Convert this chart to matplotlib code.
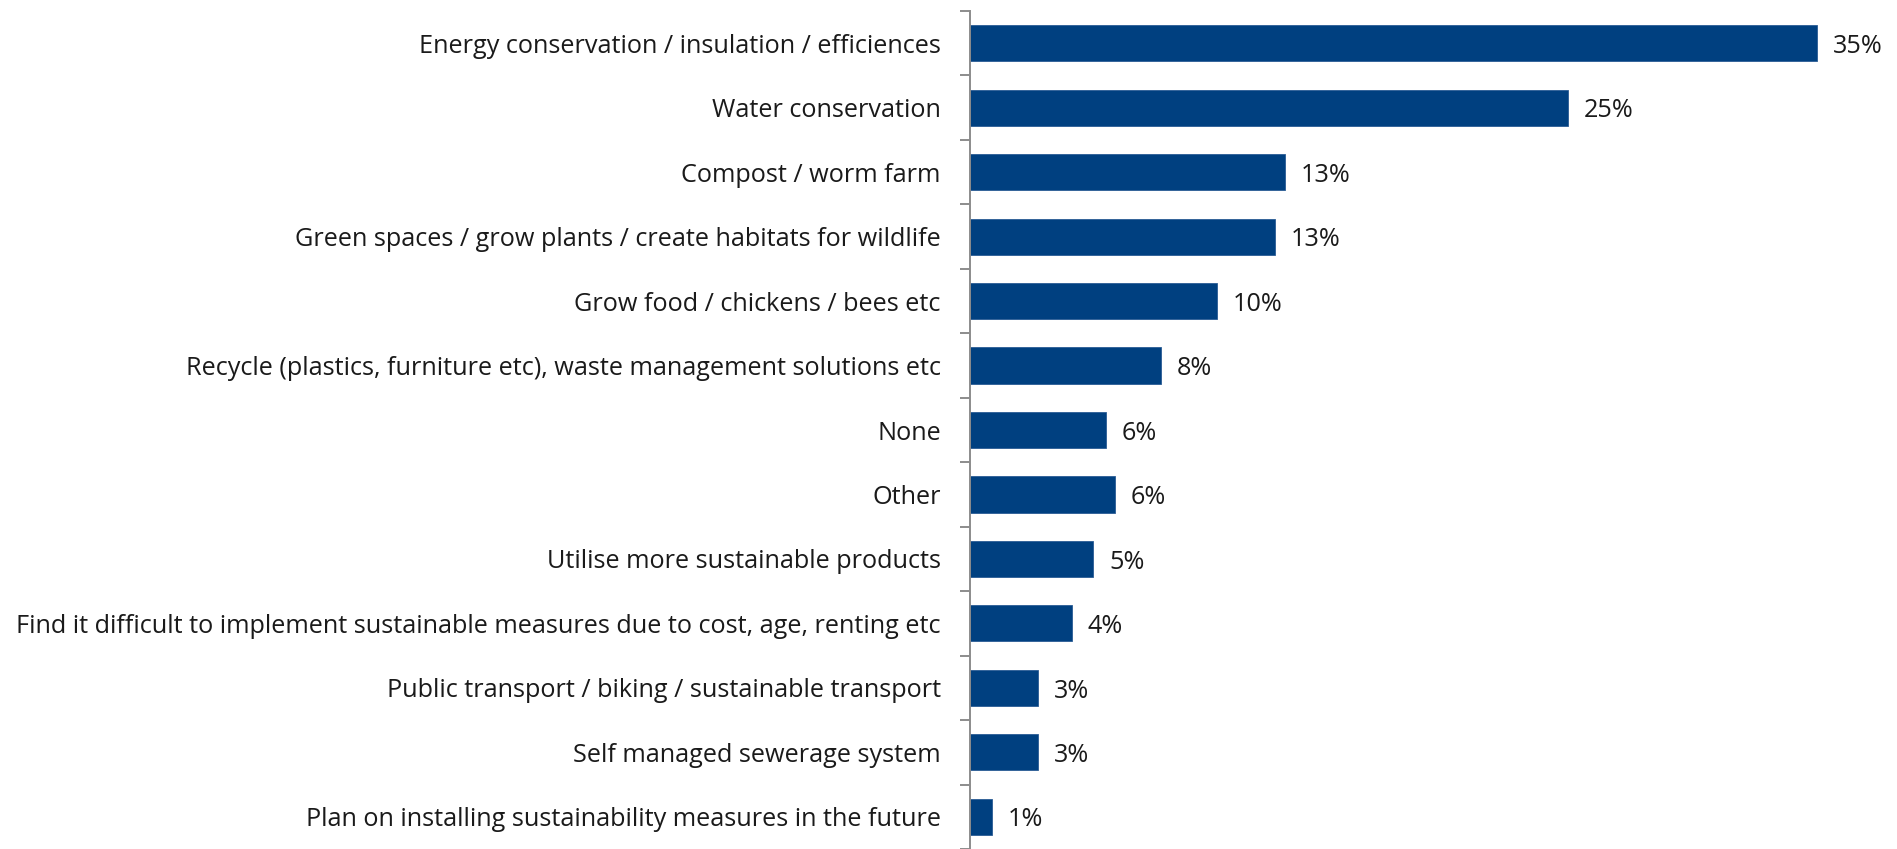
import matplotlib
matplotlib.use("Agg")
import matplotlib.pyplot as plt
import numpy as np

categories = [
    "Energy conservation / insulation / efficiences",
    "Water conservation",
    "Compost / worm farm",
    "Green spaces / grow plants / create habitats for wildlife",
    "Grow food / chickens / bees etc",
    "Recycle (plastics, furniture etc), waste management solutions etc",
    "None",
    "Other",
    "Utilise more sustainable products",
    "Find it difficult to implement sustainable measures due to cost, age, renting etc",
    "Public transport / biking / sustainable transport",
    "Self managed sewerage system",
    "Plan on installing sustainability measures in the future",
]
values = [35.0, 24.7, 13.0, 12.6, 10.2, 7.9, 5.6, 6.0, 5.1, 4.2, 2.8, 2.8, 0.9]
value_labels = ["35%", "25%", "13%", "13%", "10%", "8%", "6%", "6%", "5%", "4%", "3%", "3%", "1%"]

plt.rcParams['font.family'] = ['Open Sans', 'DejaVu Sans']

fig = plt.figure(figsize=(18.97, 8.49), dpi=100)
ax = fig.add_axes([970 / 1897, 0.0, 1 - 970 / 1897, 1 - 11 / 849])

y = np.arange(len(categories))
ax.barh(y, values, height=0.56, color='#004080', edgecolor='#2a5c94', linewidth=0.6)

for yi, v, lab in zip(y, values, value_labels):
    ax.text(v + 0.65, yi + 0.05, lab, va='center', ha='left', fontsize=18.2, color='#1a1a1a')

ax.set_ylim(len(categories) - 0.5, -0.5)
ax.set_xlim(0, (1897 - 970) / 24.2)

ax.set_yticks(y)
ax.set_yticklabels(categories, fontsize=18.2, color='#1a1a1a')
ax.set_yticks(np.arange(-0.5, len(categories)), minor=True)
ax.tick_params(axis='y', which='major', length=0, pad=21)
ax.tick_params(axis='y', which='minor', length=7, width=1.4, color='#8c8c8c')

ax.set_xticks([])
for s in ['top', 'right', 'bottom']:
    ax.spines[s].set_visible(False)
ax.spines['left'].set_color('#8c8c8c')
ax.spines['left'].set_linewidth(1.4)

fig.savefig("out.png", dpi=100)
